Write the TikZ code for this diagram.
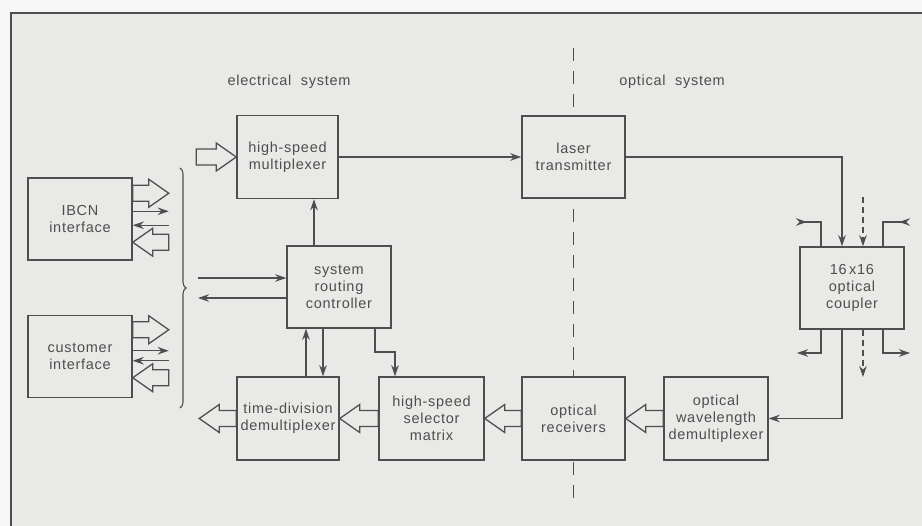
\documentclass[tikz,border=0pt]{standalone}
\usepackage{fontspec}
\setmainfont{Liberation Sans}[LetterSpace=5]
\usetikzlibrary{calc,arrows.meta,decorations.pathreplacing}
\definecolor{ink}{HTML}{4E4E4E}
\definecolor{paper}{HTML}{E9E9E7}
\definecolor{outer}{HTML}{F6F6F6}
\tikzset{
  blk/.style={draw=ink,line width=1.5pt,fill=paper,minimum width=104pt,minimum height=82pt,
    align=center,font=\fontsize{14.5}{17}\selectfont,text=ink,inner sep=0pt},
  lbl/.style={font=\fontsize{14.5}{17}\selectfont,text=ink},
  conn/.style={draw=ink,line width=1.3pt},
  arr/.style={conn,-{Stealth[length=11pt,width=7.5pt]}},
  rarr/.style={conn,{Stealth[length=11pt,width=7.5pt,reversed]}-},
  hol/.style={draw=ink,line width=1.3pt,fill=paper,line join=miter}
}
\newcommand\hollow[2]{%
  \draw[hol] let \p1=#1, \p2=#2, \n1={ifthenelse(\x2>\x1,1,-1)} in
  (\x1,\y1+8pt) -- (\x2-\n1*20pt,\y1+8pt) -- (\x2-\n1*20pt,\y1+14pt) -- (\x2,\y1)
  -- (\x2-\n1*20pt,\y1-14pt) -- (\x2-\n1*20pt,\y1-8pt) -- (\x1,\y1-8pt) -- cycle;}
\begin{document}
\begin{tikzpicture}[x=1pt,y=-1pt]
\useasboundingbox (0,0) rectangle (922,526);
\fill[outer] (0,0) rectangle (922,526);
\fill[paper] (11,13) rectangle (922,526);
\draw[ink,line width=1.2pt] (11,526) -- (11,13) -- (922,13);

% headings
\node[lbl] (elec) at (289,82) {electrical\ \ system};
\node[lbl] (opt) at (672,82) {optical\ \ system};

% divider
\draw[ink,line width=1pt,dash pattern=on 13pt off 10pt] (573,48) -- (573,502);

% blocks
\node[blk] (ibcn) at (80,219) {IBCN\\interface};
\node[blk] (cust) at (80,356.5) {customer\\interface};
\node[blk,minimum width=101pt,minimum height=83pt] (mux) at (287.5,157) {high-speed\\multiplexer};
\node[blk] (ctrl) at (339,287) {system\\routing\\controller};
\node[blk,minimum width=102pt,minimum height=83pt] (tdd) at (288,418.5) {time-division\\demultiplexer};
\node[blk,minimum width=105pt,minimum height=83pt] (sel) at (431.5,418.5) {high-speed\\selector\\matrix};
\node[blk,minimum width=103pt] (laser) at (573.5,157) {laser\\transmitter};
\node[blk,minimum width=103pt,minimum height=83pt] (orx) at (573.5,418.5) {optical\\receivers};
\node[blk,minimum height=83pt] (owd) at (716,418.5) {optical\\wavelength\\demultiplexer};
\node[blk] (cpl) at (852,288) {16\,x16\\optical\\coupler};

% interface ports
\hollow{($(ibcn.north east)+(0,16)$)}{($(ibcn.north east)+(36,16)$)}
\draw[arr] ($(ibcn.north east)+(0,34)$) -- ++(36,0);
\draw[arr] ($(ibcn.north east)+(36,48)$) -- ++(-36,0);
\hollow{($(ibcn.north east)+(36,65)$)}{($(ibcn.north east)+(0,65)$)}
\hollow{($(cust.north east)+(0,15)$)}{($(cust.north east)+(36,15)$)}
\draw[arr] ($(cust.north east)+(0,36)$) -- ++(36,0);
\draw[arr] ($(cust.north east)+(36,46)$) -- ++(-36,0);
\hollow{($(cust.north east)+(36,63)$)}{($(cust.north east)+(0,63)$)}

% brace
\draw[ink,line width=1.1pt,decorate,decoration={brace,amplitude=6pt}] (180,168) -- (180,408);

% controller links to left
\coordinate (cin) at (198,278);
\coordinate (cout) at (198,298);
\draw[arr] (cin) -- (cin -| ctrl.west);
\draw[arr] (cout -| ctrl.west) -- (cout);

% electrical side
\hollow{($(mux.west)+(-40,0)$)}{(mux.west)}
\draw[arr] (mux.east) -- (laser.west);
\draw[arr] (ctrl.north -| 314,0) -- (mux.south -| 314,0);
\draw[arr] (tdd.north -| 306,0) -- (ctrl.south -| 306,0);
\draw[arr] (ctrl.south -| 323,0) -- (tdd.north -| 323,0);
\draw[arr] (ctrl.south -| 375,0) -- (375,352) -| (sel.north -| 395,0);
\hollow{(tdd.west)}{($(tdd.west)+(-37,0)$)}
\hollow{(sel.west)}{(tdd.east)}
\hollow{(orx.west)}{(sel.east)}
\hollow{(owd.west)}{(orx.east)}

% optical side
\draw[arr] (laser.east) -| (cpl.north -| 842,0);
\coordinate (din) at (863,197);
\draw[arr,dashed,dash pattern=on 6pt off 4pt] (din) -- (cpl.north -| din);
\draw[rarr] (796,222) -| (cpl.north -| 821,0);
\draw[rarr] (910,222) -| (cpl.north -| 883,0);
\draw[arr] (cpl.south -| 821,0) |- (797,353);
\draw[arr] (cpl.south -| 883,0) |- (910,353);
\coordinate (dout) at (863,377);
\draw[arr,dashed,dash pattern=on 6pt off 4pt] (cpl.south -| dout) -- (dout);
\draw[arr] (cpl.south -| 842,0) |- (owd.east);
\end{tikzpicture}
\end{document}
